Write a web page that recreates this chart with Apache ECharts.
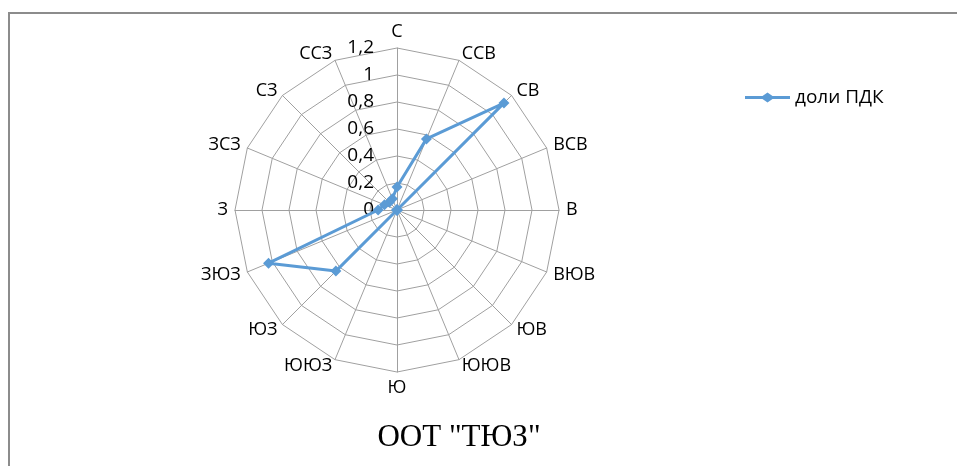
<!DOCTYPE html>
<html><head><meta charset="utf-8">
<script src="https://cdn.jsdelivr.net/npm/echarts@6/dist/echarts.min.js"></script>
<style>
html,body{margin:0;padding:0;background:#fff;width:957px;height:466px;overflow:hidden;}
#frame{position:absolute;left:8px;top:12px;width:960px;height:470px;border-top:2px solid #8c8c8c;border-left:2px solid #8c8c8c;}
#c{position:absolute;left:0;top:0;width:957px;height:466px;}
</style></head>
<body>
<div id="frame"></div>
<div id="c"></div>
<script>
// clockwise from north
const directions = ['С','ССВ','СВ','ВСВ','В','ВЮВ','ЮВ','ЮЮВ','Ю','ЮЮЗ','ЮЗ','ЗЮЗ','З','ЗСЗ','СЗ','ССЗ'];
const values = [0.17,0.57,1.12,0,0,0,0,0,0,0,0.64,1.03,0.14,0.10,0.08,0.09];
const seriesName = 'доли ПДК';
const titleText = 'ООТ "ТЮЗ"';
const maxValue = 1.2;
const splitCount = 6;

// ECharts radar places indicators counterclockwise, so reverse all but the first
const order = [0].concat(directions.slice(1).map((_, i) => directions.length - 1 - i));
const ordDirs = order.map(i => directions[i]);
const ordVals = order.map(i => values[i]);

const chart = echarts.init(document.getElementById('c'));
const indicator = ordDirs.map((d, i) => ({
  name: d, min: 0, max: maxValue,
  axisLabel: i === 0 ? {show: true} : {show: false}
}));
chart.setOption({
  animation: false,
  title: {
    text: titleText, left: 454, top: 417, textAlign: 'center',
    textStyle: {fontFamily: 'Liberation Serif', fontSize: 31, fontWeight: 'normal', color: '#000'}
  },
  legend: {
    data: [{name: seriesName, icon: 'path://M0,3.6 L17.5,3.6 L22.5,0 L27.5,3.6 L45,3.6 L45,6.4 L27.5,6.4 L22.5,10 L17.5,6.4 L0,6.4 Z'}],
    left: 740, top: 83, itemWidth: 45, itemHeight: 10, itemGap: 6,
    textStyle: {fontFamily: 'Open Sans', fontSize: 19, color: '#000'}
  },
  radar: {
    center: [397, 210], radius: 162, startAngle: 90,
    shape: 'polygon', splitNumber: splitCount,
    indicator: indicator,
    axisName: {color: '#000', fontFamily: 'Open Sans', fontSize: 18},
    nameGap: 7,
    splitArea: {show: false},
    splitLine: {lineStyle: {color: '#a0a0a0', width: 1}},
    axisLine: {lineStyle: {color: '#a0a0a0', width: 1}},
    axisTick: {show: false},
    axisLabel: {
      show: false, color: '#000', fontFamily: 'Open Sans', fontSize: 19,
      margin: 0, align: 'right', padding: [6, 23, 0, 0],
      formatter: v => String(Math.round(v * 10) / 10).replace('.', ',')
    }
  },
  series: [{
    name: seriesName, type: 'radar',
    symbol: 'diamond', symbolSize: 11,
    lineStyle: {color: '#5b9bd5', width: 3},
    itemStyle: {color: '#5b9bd5'},
    data: [{value: ordVals, name: seriesName}]
  }]
});
</script>
</body></html>
